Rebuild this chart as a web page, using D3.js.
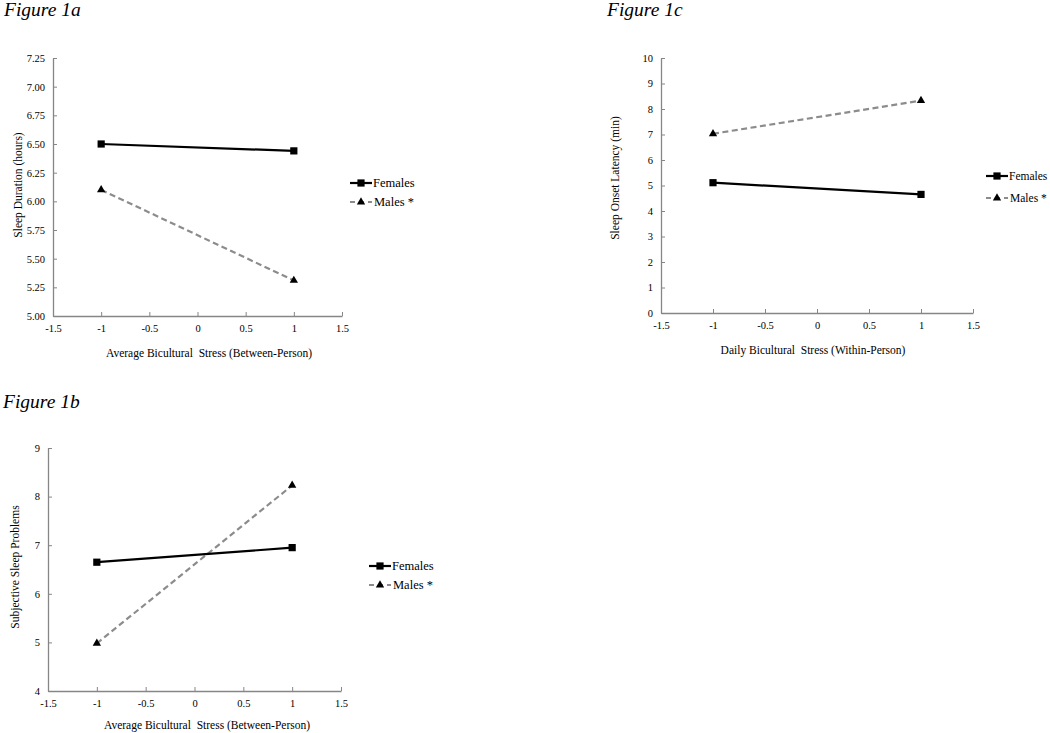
<!DOCTYPE html>
<html>
<head>
<meta charset="utf-8">
<script src="https://cdn.jsdelivr.net/npm/d3@7"></script>
<style>
  html, body { margin: 0; padding: 0; background: #fff; }
  svg { display: block; font-family: "Liberation Serif", "Times New Roman", serif; }
</style>
</head>
<body>
<svg id="chart" width="1050" height="733"></svg>
<script>
// ---- Data ----
const xPoints = [-1, 1];
const xTicks = [-1.5, -1, -0.5, 0, 0.5, 1, 1.5];
const seriesNames = ["Females", "Males *"];

// Figure 1a: Sleep Duration (hours)
const fig1aFemales = [6.50, 6.44];
const fig1aMales = [6.10, 5.31];
const fig1aYTicks = [5.00, 5.25, 5.50, 5.75, 6.00, 6.25, 6.50, 6.75, 7.00, 7.25];

// Figure 1b: Subjective Sleep Problems
const fig1bFemales = [6.65, 6.95];
const fig1bMales = [4.98, 8.23];
const fig1bYTicks = [4, 5, 6, 7, 8, 9];

// Figure 1c: Sleep Onset Latency (min)
const fig1cFemales = [5.11, 4.65];
const fig1cMales = [7.03, 8.33];
const fig1cYTicks = [0, 1, 2, 3, 4, 5, 6, 7, 8, 9, 10];

// ---- Drawing ----
const svg = d3.select("#chart");
const axisColor = "#868686";

function panel(cfg) {
  const g = svg.append("g");
  const x = d3.scaleLinear().domain([-1.5, 1.5]).range([cfg.left, cfg.right]);
  const y = d3.scaleLinear().domain(cfg.yDomain).range([cfg.bottom, cfg.top]);

  // figure label
  svg.append("text").attr("x", cfg.labelX).attr("y", cfg.labelY)
    .attr("font-size", 19.5).attr("font-style", "italic").attr("fill", "#000")
    .text(cfg.label);

  // y axis (ticks inside)
  const ya = d3.axisLeft(y).tickValues(cfg.yTicks).tickFormat(cfg.yFmt)
    .tickSizeInner(-4).tickSizeOuter(0).tickPadding(8);
  const yg = g.append("g").attr("transform", `translate(${cfg.left},0)`).call(ya);
  // x axis (ticks inside)
  const xa = d3.axisBottom(x).tickValues(xTicks).tickFormat(d => String(d))
    .tickSizeInner(-4).tickSizeOuter(0).tickPadding(7);
  const xg = g.append("g").attr("transform", `translate(0,${cfg.bottom})`).call(xa);

  [yg, xg].forEach(a => {
    a.select(".domain").attr("stroke", axisColor).attr("stroke-width", 1.3);
    a.selectAll(".tick line").attr("stroke", axisColor).attr("stroke-width", 1);
    a.selectAll(".tick text").attr("font-family", "Liberation Serif, serif")
      .attr("font-size", 10.5).attr("fill", "#000");
  });
  xg.selectAll(".tick text").attr("dy", "0.9em");

  // axis titles
  g.append("text").attr("x", cfg.xTitleX).attr("y", cfg.xTitleY)
    .attr("text-anchor", "middle").attr("font-size", 11.5).attr("fill", "#000")
    .attr("xml:space", "preserve").style("white-space", "pre")
    .text(cfg.xTitle);
  g.append("text")
    .attr("transform", `translate(${cfg.yTitleX},${cfg.yTitleY}) rotate(-90)`)
    .attr("text-anchor", "middle").attr("font-size", 11.5).attr("fill", "#000")
    .text(cfg.yTitle);

  const line = d3.line().x((d, i) => x(xPoints[i])).y(d => y(d));

  // males (dashed gray)
  g.append("path").datum(cfg.males).attr("d", line)
    .attr("fill", "none").attr("stroke", "#8c8c8c").attr("stroke-width", 2.2)
    .attr("stroke-dasharray", "6,3.5");
  // females (solid black)
  g.append("path").datum(cfg.females).attr("d", line)
    .attr("fill", "none").attr("stroke", "#000").attr("stroke-width", 2.2);

  const sq = d3.symbol().type(d3.symbolSquare).size(52);
  const tri = d3.symbol().type(d3.symbolTriangle).size(30);
  g.selectAll(".fm").data(cfg.females).join("path")
    .attr("transform", (d, i) => `translate(${x(xPoints[i])},${y(d)})`)
    .attr("d", sq).attr("fill", "#000");
  g.selectAll(".mm").data(cfg.males).join("path")
    .attr("transform", (d, i) => `translate(${x(xPoints[i])},${y(d)})`)
    .attr("d", tri).attr("fill", "#000");

  // legend
  const fs = cfg.legFont || 12.5;
  const lg = g.append("g").attr("transform", `translate(${cfg.legX},${cfg.legY})`);
  lg.append("line").attr("x1", 0).attr("x2", 22).attr("y1", 0).attr("y2", 0)
    .attr("stroke", "#000").attr("stroke-width", 2.2);
  lg.append("path").attr("transform", "translate(11,0)").attr("d", sq).attr("fill", "#000");
  lg.append("text").attr("x", 23).attr("y", 4).attr("font-size", fs).text(seriesNames[0]);
  lg.append("line").attr("x1", 0).attr("x2", 22).attr("y1", cfg.legGap).attr("y2", cfg.legGap)
    .attr("stroke", "#8c8c8c").attr("stroke-width", 2.2).attr("stroke-dasharray", "5,4");
  lg.append("path").attr("transform", `translate(11,${cfg.legGap})`).attr("d", tri).attr("fill", "#000");
  lg.append("text").attr("x", 24).attr("y", cfg.legGap + 4).attr("font-size", fs).text(seriesNames[1]);
}

panel({
  label: "Figure 1a", labelX: 4, labelY: 16,
  left: 53, right: 342, top: 58, bottom: 316,
  yDomain: [5.00, 7.25], yTicks: fig1aYTicks, yFmt: d3.format(".2f"),
  females: fig1aFemales, males: fig1aMales,
  xTitle: "Average Bicultural  Stress (Between-Person)", xTitleX: 209, xTitleY: 357,
  yTitle: "Sleep Duration (hours)", yTitleX: 22, yTitleY: 185,
  legX: 350, legY: 183, legGap: 19
});

panel({
  label: "Figure 1c", labelX: 607, labelY: 16,
  left: 661, right: 973, top: 58, bottom: 313,
  yDomain: [0, 10], yTicks: fig1cYTicks, yFmt: d3.format("d"),
  females: fig1cFemales, males: fig1cMales,
  xTitle: "Daily Bicultural  Stress (Within-Person)", xTitleX: 813, xTitleY: 354,
  yTitle: "Sleep Onset Latency (min)", yTitleX: 619, yTitleY: 178,
  legX: 986, legY: 176, legGap: 22, legFont: 11.5
});

panel({
  label: "Figure 1b", labelX: 3, labelY: 408,
  left: 48, right: 341, top: 448, bottom: 691,
  yDomain: [4, 9], yTicks: fig1bYTicks, yFmt: d3.format("d"),
  females: fig1bFemales, males: fig1bMales,
  xTitle: "Average Bicultural  Stress (Between-Person)", xTitleX: 207, xTitleY: 729,
  yTitle: "Subjective Sleep Problems", yTitleX: 19, yTitleY: 567,
  legX: 369, legY: 566, legGap: 19
});
</script>
</body>
</html>
